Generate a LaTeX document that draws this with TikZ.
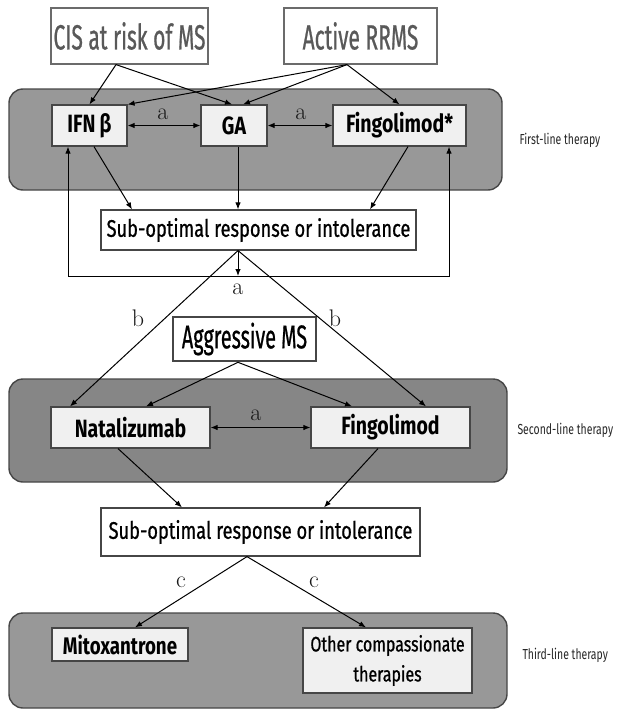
\documentclass[tikz,border=0pt]{standalone}
\usepackage{fontspec}
\usetikzlibrary{arrows.meta}
\newfontfamily\tallfont[FakeStretch=0.6,FakeBold=0.6]{Fira Sans}
\newfontfamily\boxfont[FakeStretch=0.78]{Fira Sans}
\newfontfamily\midfont[FakeStretch=0.76,FakeBold=0.8]{Fira Sans}
\newfontfamily\sidefont[FakeStretch=0.72]{Fira Sans}
\definecolor{panelgray}{RGB}{152,152,152}
\definecolor{paneldark}{RGB}{134,134,134}
\definecolor{boxgray}{RGB}{240,240,240}
\definecolor{edgegray}{RGB}{70,70,70}

\begin{document}
\begin{tikzpicture}[x=1pt,y=-1pt,
  >={Latex[length=7pt,width=5.5pt]},
  panel/.style={draw=edgegray,line width=1.4pt,rounded corners=14pt},
  source/.style={draw=edgegray!80,fill=white,line width=1.2pt,inner sep=0pt,minimum height=56pt,
    text=black!65,font=\tallfont\fontsize{35}{35}\selectfont},
  drug/.style={draw=edgegray,fill=boxgray,line width=1.2pt,inner sep=0pt,minimum height=41pt,
    font=\boxfont\bfseries\fontsize{25}{25}\selectfont},
  result/.style={draw=edgegray,fill=white,line width=1.2pt,inner sep=0pt,
    font=\midfont\fontsize{24}{24}\selectfont},
  tier/.style={anchor=west,text=black!85,font=\sidefont\fontsize{14.5}{14.5}\selectfont},
  letter/.style={text=black!90,font=\fontsize{24}{24}\selectfont},
  link/.style={->,line width=1pt}]

\useasboundingbox (0,0) rectangle (621,712);

% therapy levels
\draw[panel,fill=panelgray] (9,89) rectangle (502,190);
\draw[panel,fill=paneldark] (9,379) rectangle (507,482);
\draw[panel,fill=panelgray] (9,613) rectangle (507,708);

\node[source,minimum width=157pt] (cis) at (129.5,36) {CIS at risk of MS};
\node[source,minimum width=153pt] (rrms) at (360.5,36) {Active RRMS};

\node[drug,minimum width=75pt] (ifn) at (89.5,125.5) {IFN\,β};
\node[drug,minimum width=66pt] (ga) at (234,125.5) {GA};
\node[drug,minimum width=133pt] (fingoA) at (399.5,125.5) {Fingolimod*};
\node[tier] (first) at (516,140) {First-line therapy};

\node[result,minimum width=315pt,minimum height=40pt] (subA) at (258.5,230) {Sub-optimal response or intolerance};

\node[draw=edgegray,fill=white,line width=2.6pt,minimum width=143pt,minimum height=44pt,inner sep=0pt,
  font=\tallfont\fontsize{33}{33}\selectfont] (aggr) at (244.5,339) {Aggressive MS};

\node[drug,minimum width=159pt] (nat) at (130.5,427.5) {Natalizumab};
\node[drug,minimum width=159pt] (fingoB) at (390.5,427.5) {Fingolimod};
\node[tier] (second) at (514,430) {Second-line therapy};

\node[result,minimum width=319pt,minimum height=48pt] (subB) at (260.5,532) {Sub-optimal response or intolerance};

\node[drug,minimum width=136pt,minimum height=33pt,font=\boxfont\bfseries\fontsize{24}{24}\selectfont]
  (mito) at (120,644.5) {Mitoxantrone};
\node[drug,minimum width=169pt,minimum height=65pt,align=center,font=\midfont\fontsize{21}{30}\selectfont]
  (other) at (387.5,660.5) {Other compassionate\\therapies};
\node[tier] (third) at (519,655) {Third-line therapy};

\coordinate (loopL) at (68,276);
\coordinate (loopR) at (449,276);
\coordinate (split) at ([xshift=-20.5pt]subA.south);
\coordinate (splitB) at ([xshift=-13.5pt]subB.south);

% first line
\draw[link] ([xshift=-13.5pt]cis.south) -- (ifn.north);
\draw[link] ([xshift=-13.5pt]cis.south) -- ([xshift=-2pt]ga.north);
\draw[link] ([xshift=-13.5pt]rrms.south) -- (ifn.north east);
\draw[link] ([xshift=-13.5pt]rrms.south) -- ([xshift=9pt]ga.north);
\draw[link] ([xshift=-13.5pt]rrms.south) -- (fingoA.north);
\draw[link,<->] (ifn.east) -- (ga.west);
\draw[link,<->] (ga.east) -- (fingoA.west);

\draw[link] ([xshift=4.5pt]ifn.south) -- ([xshift=-126.5pt]subA.north);
\draw[link] (ga.south -| split) -- (split |- subA.north);
\draw[link] ([xshift=8.5pt]fingoA.south) -- ([xshift=111.5pt]subA.north);
\draw[link,<->] (loopL |- ifn.south) -- (loopL) -- (loopR) -- (loopR |- fingoA.south);
\draw[link] (split) -- (split |- loopL);

% second line
\draw[link] (split) -- ([xshift=-60.5pt]nat.north);
\draw[link] (split) -- ([xshift=35.5pt]fingoB.north);
\draw[link] ([xshift=-6.5pt]aggr.south) -- ([xshift=15.5pt]nat.north);
\draw[link] ([xshift=-6.5pt]aggr.south) -- ([xshift=-38.5pt]fingoB.north);
\draw[link,<->] (nat.east) -- (fingoB.west);
\draw[link] ([xshift=-12.5pt]nat.south) -- ([xshift=-78.5pt]subB.north);
\draw[link] ([xshift=-12.5pt]fingoB.south) -- ([xshift=63.5pt]subB.north);

% third line
\draw[link] (splitB) -- ([xshift=15pt]mito.north);
\draw[link] (splitB) -- ([xshift=-21.5pt]other.north);

\node[letter] (aA) at (163,114) {a};
\node[letter] (aB) at (301,114) {a};
\node[letter] (aC) at (238,289) {a};
\node[letter] (aD) at (256,415) {a};
\node[letter] (bA) at (138,318) {b};
\node[letter] (bB) at (335,318) {b};
\node[letter] (cA) at (181,582) {c};
\node[letter] (cB) at (314,582) {c};

\end{tikzpicture}
\end{document}
